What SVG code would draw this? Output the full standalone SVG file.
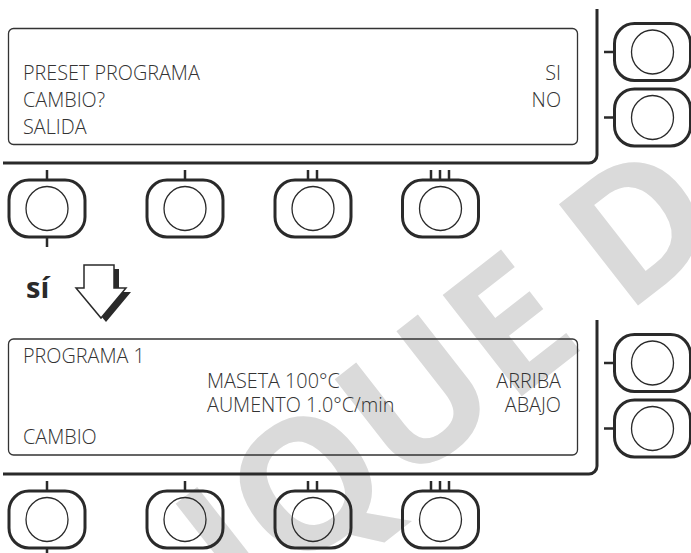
<svg xmlns="http://www.w3.org/2000/svg" width="691" height="553" viewBox="0 0 691 553">
<style>
.frame{fill:none;stroke:#2a2a2a;stroke-width:3}
.disp{fill:none;stroke:#333;stroke-width:1.3}
.btn{fill:none;stroke:#2a2a2a;stroke-width:3}
.knob{fill:none;stroke:#2a2a2a;stroke-width:1.3}
.tick{stroke:#2a2a2a;stroke-width:2.5;fill:none}
.t{font-family:"Open Sans","Liberation Sans",sans-serif;font-weight:300;font-size:19.8px;fill:#333}
.r{text-anchor:end}
.wm{font-family:"Open Sans","Liberation Sans",sans-serif;font-weight:bold;font-size:180px;fill:#dadada}
</style>
<defs>
<g id="button"><rect class="btn" x="-38" y="-28.5" width="76" height="57" rx="20"/><ellipse class="knob" rx="21" ry="22"/></g>
</defs>
<rect width="691" height="553" fill="#fff"/>
<text class="wm" transform="translate(242,615) rotate(-38)">IQUE D</text>

<g id="panel1">
<g id="frame1"><path class="frame" d="M3,163 H589 A8,8 0 0 0 597,155 V9"/></g>
<g id="display1">
<rect class="disp" x="8.5" y="28.5" width="569" height="116" rx="5"/>
<text class="t" x="23" y="80">PRESET PROGRAMA</text>
<text class="t" x="23" y="107">CAMBIO?</text>
<text class="t" x="23" y="134">SALIDA</text>
<text class="t r" x="561" y="80">SI</text>
<text class="t r" x="561" y="107">NO</text>
</g>
<g id="p1-btn-r1"><use href="#button" x="652.5" y="52"/></g>
<g id="p1-btn-r2"><use href="#button" x="652.5" y="117.5"/></g>
<g id="p1-btn-1"><use href="#button" x="47" y="208.5"/></g>
<g id="p1-btn-2"><use href="#button" x="185" y="208.5"/></g>
<g id="p1-btn-3"><use href="#button" x="313" y="208.5"/></g>
<g id="p1-btn-4"><use href="#button" x="440.5" y="208.5"/></g>
</g>

<g id="panel2">
<g id="frame2"><path class="frame" d="M3,474 H589 A8,8 0 0 0 597,466 V320"/></g>
<g id="display2">
<rect class="disp" x="8.5" y="339" width="569" height="116" rx="5"/>
<text class="t" x="23" y="363">PROGRAMA 1</text>
<text class="t" x="207" y="388">MASETA 100°C</text>
<text class="t" x="207" y="412">AUMENTO 1.0°C/min</text>
<text class="t" x="23" y="444">CAMBIO</text>
<text class="t r" x="561" y="388">ARRIBA</text>
<text class="t r" x="561" y="412">ABAJO</text>
</g>
<g id="p2-btn-r1"><use href="#button" x="652.5" y="363"/></g>
<g id="p2-btn-r2"><use href="#button" x="652.5" y="428.5"/></g>
<g id="p2-btn-1"><use href="#button" x="47" y="519.5"/></g>
<g id="p2-btn-2"><use href="#button" x="185" y="519.5"/></g>
<g id="p2-btn-3"><use href="#button" x="313" y="519.5"/></g>
<g id="p2-btn-4"><use href="#button" x="440.5" y="519.5"/></g>
</g>

<g id="connectors">
<path class="tick" d="M47,170V180 M47,237V247 M185,170V180 M308,170V180 M317,170V180 M431,170V180 M440,170V180 M449,170V180 M604,52H614 M604,117.5H614"/>
<path class="tick" d="M47,481V491 M47,548V558 M185,481V491 M308,481V491 M317,481V491 M431,481V491 M440,481V491 M449,481V491 M604,363H614 M604,428.5H614"/>
</g>

<g id="step">
<text x="26" y="298" font-family="'Open Sans','Liberation Sans',sans-serif" font-weight="bold" font-size="29" fill="#2a2a2a">sí</text>
<polygon points="89,269 119,269 119,292 131,292 106,322 81,292 89,292" fill="#2a2a2a"/>
<polygon points="84,265 114,265 114,288 126,288 101,318 76,288 84,288" fill="#fff" stroke="#2a2a2a" stroke-width="1.5" stroke-linejoin="miter"/>
</g>
</svg>
